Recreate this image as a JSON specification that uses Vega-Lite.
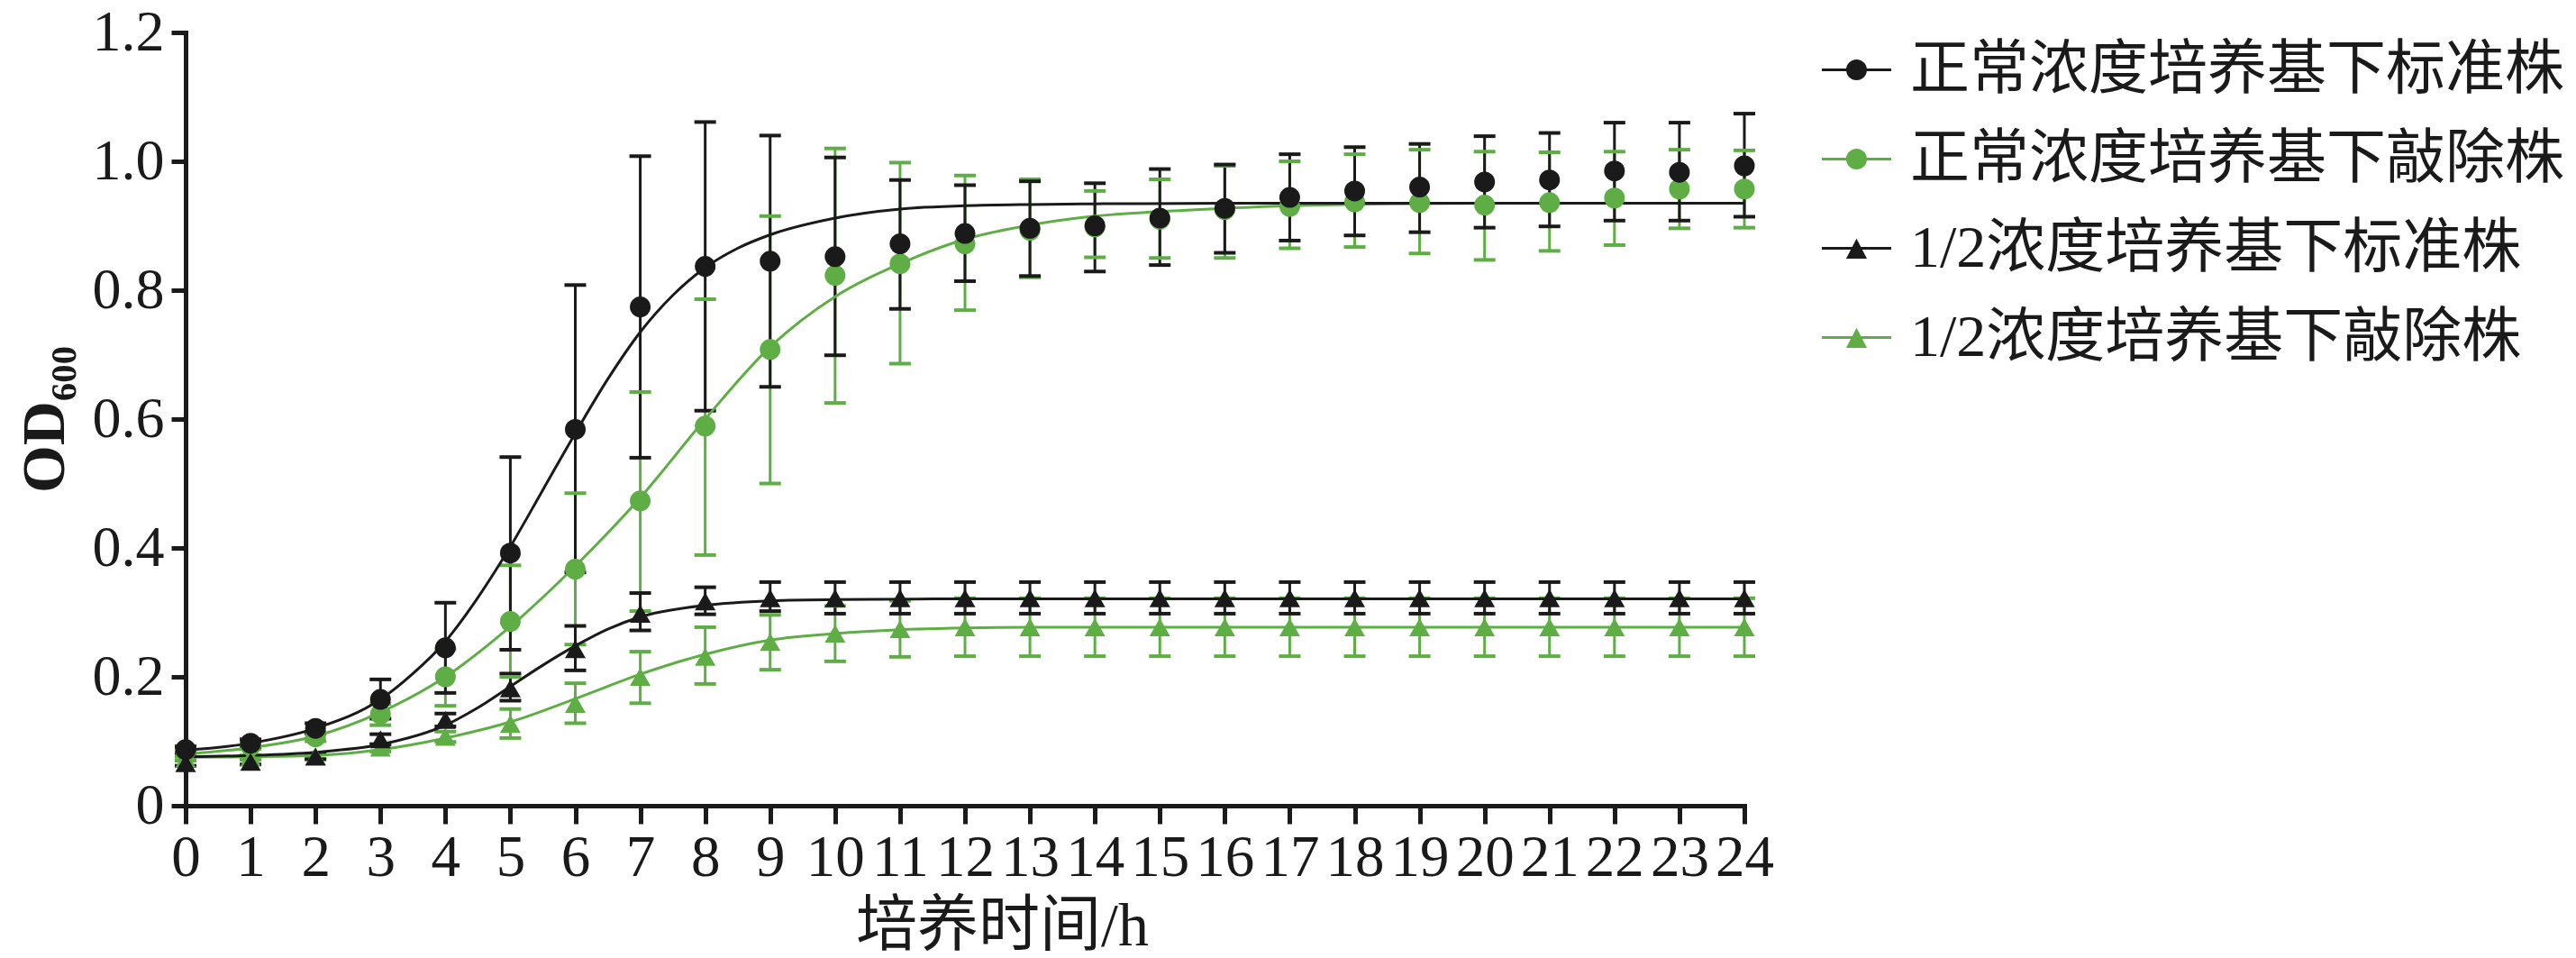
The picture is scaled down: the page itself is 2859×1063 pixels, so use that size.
{
  "$schema": "https://vega.github.io/schema/vega-lite/v6.json",
  "width": 1730,
  "height": 858,
  "autosize": {"type": "none"},
  "padding": {"left": 206, "top": 36, "right": 923, "bottom": 169},
  "background": "white",
  "config": {"view": {"stroke": null}, "font": "Liberation Serif"},
  "datasets": {
    "pts": [
      {"s": "1/2浓度培养基下敲除株", "t": 0, "m": 0.073, "lo": 0.07, "hi": 0.076},
      {"s": "1/2浓度培养基下敲除株", "t": 1, "m": 0.075, "lo": 0.072, "hi": 0.078},
      {"s": "1/2浓度培养基下敲除株", "t": 2, "m": 0.077, "lo": 0.073, "hi": 0.081},
      {"s": "1/2浓度培养基下敲除株", "t": 3, "m": 0.09, "lo": 0.084, "hi": 0.096},
      {"s": "1/2浓度培养基下敲除株", "t": 4, "m": 0.107, "lo": 0.099, "hi": 0.115},
      {"s": "1/2浓度培养基下敲除株", "t": 5, "m": 0.127, "lo": 0.105, "hi": 0.15},
      {"s": "1/2浓度培养基下敲除株", "t": 6, "m": 0.158, "lo": 0.128, "hi": 0.19},
      {"s": "1/2浓度培养基下敲除株", "t": 7, "m": 0.2, "lo": 0.159, "hi": 0.239},
      {"s": "1/2浓度培养基下敲除株", "t": 8, "m": 0.231, "lo": 0.189, "hi": 0.277},
      {"s": "1/2浓度培养基下敲除株", "t": 9, "m": 0.254, "lo": 0.211, "hi": 0.296},
      {"s": "1/2浓度培养基下敲除株", "t": 10, "m": 0.267, "lo": 0.224, "hi": 0.31},
      {"s": "1/2浓度培养基下敲除株", "t": 11, "m": 0.274, "lo": 0.231, "hi": 0.318},
      {"s": "1/2浓度培养基下敲除株", "t": 12, "m": 0.277, "lo": 0.232, "hi": 0.322},
      {"s": "1/2浓度培养基下敲除株", "t": 13, "m": 0.277, "lo": 0.232, "hi": 0.322},
      {"s": "1/2浓度培养基下敲除株", "t": 14, "m": 0.277, "lo": 0.232, "hi": 0.322},
      {"s": "1/2浓度培养基下敲除株", "t": 15, "m": 0.277, "lo": 0.232, "hi": 0.322},
      {"s": "1/2浓度培养基下敲除株", "t": 16, "m": 0.277, "lo": 0.232, "hi": 0.322},
      {"s": "1/2浓度培养基下敲除株", "t": 17, "m": 0.277, "lo": 0.232, "hi": 0.322},
      {"s": "1/2浓度培养基下敲除株", "t": 18, "m": 0.277, "lo": 0.232, "hi": 0.322},
      {"s": "1/2浓度培养基下敲除株", "t": 19, "m": 0.277, "lo": 0.232, "hi": 0.322},
      {"s": "1/2浓度培养基下敲除株", "t": 20, "m": 0.277, "lo": 0.232, "hi": 0.322},
      {"s": "1/2浓度培养基下敲除株", "t": 21, "m": 0.277, "lo": 0.232, "hi": 0.322},
      {"s": "1/2浓度培养基下敲除株", "t": 22, "m": 0.277, "lo": 0.232, "hi": 0.322},
      {"s": "1/2浓度培养基下敲除株", "t": 23, "m": 0.277, "lo": 0.232, "hi": 0.322},
      {"s": "1/2浓度培养基下敲除株", "t": 24, "m": 0.277, "lo": 0.232, "hi": 0.322},

      {"s": "正常浓度培养基下敲除株", "t": 0, "m": 0.085, "lo": 0.08, "hi": 0.09},
      {"s": "正常浓度培养基下敲除株", "t": 1, "m": 0.093, "lo": 0.088, "hi": 0.098},
      {"s": "正常浓度培养基下敲除株", "t": 2, "m": 0.107, "lo": 0.1, "hi": 0.114},
      {"s": "正常浓度培养基下敲除株", "t": 3, "m": 0.142, "lo": 0.125, "hi": 0.158},
      {"s": "正常浓度培养基下敲除株", "t": 4, "m": 0.2, "lo": 0.155, "hi": 0.243},
      {"s": "正常浓度培养基下敲除株", "t": 5, "m": 0.286, "lo": 0.2, "hi": 0.373},
      {"s": "正常浓度培养基下敲除株", "t": 6, "m": 0.367, "lo": 0.25, "hi": 0.485},
      {"s": "正常浓度培养基下敲除株", "t": 7, "m": 0.473, "lo": 0.302, "hi": 0.642},
      {"s": "正常浓度培养基下敲除株", "t": 8, "m": 0.589, "lo": 0.389, "hi": 0.786},
      {"s": "正常浓度培养基下敲除株", "t": 9, "m": 0.708, "lo": 0.5, "hi": 0.915},
      {"s": "正常浓度培养基下敲除株", "t": 10, "m": 0.823, "lo": 0.625, "hi": 1.02},
      {"s": "正常浓度培养基下敲除株", "t": 11, "m": 0.841, "lo": 0.686, "hi": 0.998},
      {"s": "正常浓度培养基下敲除株", "t": 12, "m": 0.872, "lo": 0.769, "hi": 0.978},
      {"s": "正常浓度培养基下敲除株", "t": 13, "m": 0.893, "lo": 0.82, "hi": 0.972},
      {"s": "正常浓度培养基下敲除株", "t": 14, "m": 0.898, "lo": 0.851, "hi": 0.954},
      {"s": "正常浓度培养基下敲除株", "t": 15, "m": 0.91, "lo": 0.85, "hi": 0.972},
      {"s": "正常浓度培养基下敲除株", "t": 16, "m": 0.925, "lo": 0.85, "hi": 0.993},
      {"s": "正常浓度培养基下敲除株", "t": 17, "m": 0.93, "lo": 0.865, "hi": 1.0},
      {"s": "正常浓度培养基下敲除株", "t": 18, "m": 0.937, "lo": 0.867, "hi": 1.011},
      {"s": "正常浓度培养基下敲除株", "t": 19, "m": 0.936, "lo": 0.857, "hi": 1.018},
      {"s": "正常浓度培养基下敲除株", "t": 20, "m": 0.932, "lo": 0.847, "hi": 1.015},
      {"s": "正常浓度培养基下敲除株", "t": 21, "m": 0.936, "lo": 0.861, "hi": 1.014},
      {"s": "正常浓度培养基下敲除株", "t": 22, "m": 0.943, "lo": 0.87, "hi": 1.015},
      {"s": "正常浓度培养基下敲除株", "t": 23, "m": 0.957, "lo": 0.896, "hi": 1.018},
      {"s": "正常浓度培养基下敲除株", "t": 24, "m": 0.957, "lo": 0.897, "hi": 1.017},

      {"s": "1/2浓度培养基下标准株", "t": 0, "m": 0.066, "lo": 0.062, "hi": 0.07},
      {"s": "1/2浓度培养基下标准株", "t": 1, "m": 0.068, "lo": 0.064, "hi": 0.072},
      {"s": "1/2浓度培养基下标准株", "t": 2, "m": 0.076, "lo": 0.072, "hi": 0.08},
      {"s": "1/2浓度培养基下标准株", "t": 3, "m": 0.103, "lo": 0.095, "hi": 0.111},
      {"s": "1/2浓度培养基下标准株", "t": 4, "m": 0.133, "lo": 0.123, "hi": 0.143},
      {"s": "1/2浓度培养基下标准株", "t": 5, "m": 0.182, "lo": 0.163, "hi": 0.205},
      {"s": "1/2浓度培养基下标准株", "t": 6, "m": 0.243, "lo": 0.21, "hi": 0.279},
      {"s": "1/2浓度培养基下标准株", "t": 7, "m": 0.298, "lo": 0.272, "hi": 0.33},
      {"s": "1/2浓度培养基下标准株", "t": 8, "m": 0.317, "lo": 0.297, "hi": 0.339},
      {"s": "1/2浓度培养基下标准株", "t": 9, "m": 0.322, "lo": 0.302, "hi": 0.347},
      {"s": "1/2浓度培养基下标准株", "t": 10, "m": 0.322, "lo": 0.298, "hi": 0.347},
      {"s": "1/2浓度培养基下标准株", "t": 11, "m": 0.322, "lo": 0.298, "hi": 0.347},
      {"s": "1/2浓度培养基下标准株", "t": 12, "m": 0.322, "lo": 0.298, "hi": 0.347},
      {"s": "1/2浓度培养基下标准株", "t": 13, "m": 0.322, "lo": 0.298, "hi": 0.347},
      {"s": "1/2浓度培养基下标准株", "t": 14, "m": 0.322, "lo": 0.298, "hi": 0.347},
      {"s": "1/2浓度培养基下标准株", "t": 15, "m": 0.322, "lo": 0.298, "hi": 0.347},
      {"s": "1/2浓度培养基下标准株", "t": 16, "m": 0.322, "lo": 0.298, "hi": 0.347},
      {"s": "1/2浓度培养基下标准株", "t": 17, "m": 0.322, "lo": 0.298, "hi": 0.347},
      {"s": "1/2浓度培养基下标准株", "t": 18, "m": 0.322, "lo": 0.298, "hi": 0.347},
      {"s": "1/2浓度培养基下标准株", "t": 19, "m": 0.322, "lo": 0.298, "hi": 0.347},
      {"s": "1/2浓度培养基下标准株", "t": 20, "m": 0.322, "lo": 0.298, "hi": 0.347},
      {"s": "1/2浓度培养基下标准株", "t": 21, "m": 0.322, "lo": 0.298, "hi": 0.347},
      {"s": "1/2浓度培养基下标准株", "t": 22, "m": 0.322, "lo": 0.298, "hi": 0.347},
      {"s": "1/2浓度培养基下标准株", "t": 23, "m": 0.322, "lo": 0.298, "hi": 0.347},
      {"s": "1/2浓度培养基下标准株", "t": 24, "m": 0.322, "lo": 0.298, "hi": 0.347},

      {"s": "正常浓度培养基下标准株", "t": 0, "m": 0.087, "lo": 0.082, "hi": 0.092},
      {"s": "正常浓度培养基下标准株", "t": 1, "m": 0.097, "lo": 0.091, "hi": 0.103},
      {"s": "正常浓度培养基下标准株", "t": 2, "m": 0.12, "lo": 0.112, "hi": 0.128},
      {"s": "正常浓度培养基下标准株", "t": 3, "m": 0.165, "lo": 0.135, "hi": 0.196},
      {"s": "正常浓度培养基下标准株", "t": 4, "m": 0.245, "lo": 0.175, "hi": 0.315},
      {"s": "正常浓度培养基下标准株", "t": 5, "m": 0.392, "lo": 0.242, "hi": 0.541},
      {"s": "正常浓度培养基下标准株", "t": 6, "m": 0.584, "lo": 0.362, "hi": 0.808},
      {"s": "正常浓度培养基下标准株", "t": 7, "m": 0.774, "lo": 0.54, "hi": 1.008},
      {"s": "正常浓度培养基下标准株", "t": 8, "m": 0.837, "lo": 0.613, "hi": 1.061},
      {"s": "正常浓度培养基下标准株", "t": 9, "m": 0.845, "lo": 0.65, "hi": 1.04},
      {"s": "正常浓度培养基下标准株", "t": 10, "m": 0.852, "lo": 0.699, "hi": 1.006},
      {"s": "正常浓度培养基下标准株", "t": 11, "m": 0.872, "lo": 0.771, "hi": 0.971},
      {"s": "正常浓度培养基下标准株", "t": 12, "m": 0.888, "lo": 0.814, "hi": 0.963},
      {"s": "正常浓度培养基下标准株", "t": 13, "m": 0.896, "lo": 0.822, "hi": 0.969},
      {"s": "正常浓度培养基下标准株", "t": 14, "m": 0.9, "lo": 0.829, "hi": 0.966},
      {"s": "正常浓度培养基下标准株", "t": 15, "m": 0.912, "lo": 0.839, "hi": 0.988},
      {"s": "正常浓度培养基下标准株", "t": 16, "m": 0.927, "lo": 0.858, "hi": 0.995},
      {"s": "正常浓度培养基下标准株", "t": 17, "m": 0.944, "lo": 0.877, "hi": 1.011},
      {"s": "正常浓度培养基下标准株", "t": 18, "m": 0.954, "lo": 0.885, "hi": 1.022},
      {"s": "正常浓度培养基下标准株", "t": 19, "m": 0.96, "lo": 0.89, "hi": 1.027},
      {"s": "正常浓度培养基下标准株", "t": 20, "m": 0.968, "lo": 0.897, "hi": 1.039},
      {"s": "正常浓度培养基下标准株", "t": 21, "m": 0.971, "lo": 0.899, "hi": 1.044},
      {"s": "正常浓度培养基下标准株", "t": 22, "m": 0.985, "lo": 0.908, "hi": 1.06},
      {"s": "正常浓度培养基下标准株", "t": 23, "m": 0.983, "lo": 0.908, "hi": 1.06},
      {"s": "正常浓度培养基下标准株", "t": 24, "m": 0.993, "lo": 0.914, "hi": 1.074}
    ],
    "fit": [
      {"s": "1/2浓度培养基下敲除株", "t": 0, "v": 0.075},
      {"s": "1/2浓度培养基下敲除株", "t": 1, "v": 0.076},
      {"s": "1/2浓度培养基下敲除株", "t": 2, "v": 0.078},
      {"s": "1/2浓度培养基下敲除株", "t": 3, "v": 0.087},
      {"s": "1/2浓度培养基下敲除株", "t": 4, "v": 0.105},
      {"s": "1/2浓度培养基下敲除株", "t": 5, "v": 0.13},
      {"s": "1/2浓度培养基下敲除株", "t": 6, "v": 0.166},
      {"s": "1/2浓度培养基下敲除株", "t": 7, "v": 0.204},
      {"s": "1/2浓度培养基下敲除株", "t": 8, "v": 0.235},
      {"s": "1/2浓度培养基下敲除株", "t": 9, "v": 0.257},
      {"s": "1/2浓度培养基下敲除株", "t": 10, "v": 0.267},
      {"s": "1/2浓度培养基下敲除株", "t": 11, "v": 0.273},
      {"s": "1/2浓度培养基下敲除株", "t": 12, "v": 0.276},
      {"s": "1/2浓度培养基下敲除株", "t": 13, "v": 0.277},
      {"s": "1/2浓度培养基下敲除株", "t": 24, "v": 0.277},

      {"s": "正常浓度培养基下敲除株", "t": 0, "v": 0.08},
      {"s": "正常浓度培养基下敲除株", "t": 1, "v": 0.09},
      {"s": "正常浓度培养基下敲除株", "t": 2, "v": 0.108},
      {"s": "正常浓度培养基下敲除株", "t": 3, "v": 0.145},
      {"s": "正常浓度培养基下敲除株", "t": 4, "v": 0.2},
      {"s": "正常浓度培养基下敲除株", "t": 5, "v": 0.278},
      {"s": "正常浓度培养基下敲除株", "t": 6, "v": 0.372},
      {"s": "正常浓度培养基下敲除株", "t": 7, "v": 0.478},
      {"s": "正常浓度培养基下敲除株", "t": 8, "v": 0.6},
      {"s": "正常浓度培养基下敲除株", "t": 9, "v": 0.712},
      {"s": "正常浓度培养基下敲除株", "t": 10, "v": 0.79},
      {"s": "正常浓度培养基下敲除株", "t": 11, "v": 0.841},
      {"s": "正常浓度培养基下敲除株", "t": 12, "v": 0.879},
      {"s": "正常浓度培养基下敲除株", "t": 13, "v": 0.901},
      {"s": "正常浓度培养基下敲除株", "t": 14, "v": 0.915},
      {"s": "正常浓度培养基下敲除株", "t": 15, "v": 0.922},
      {"s": "正常浓度培养基下敲除株", "t": 16, "v": 0.927},
      {"s": "正常浓度培养基下敲除株", "t": 17, "v": 0.931},
      {"s": "正常浓度培养基下敲除株", "t": 18, "v": 0.933},
      {"s": "正常浓度培养基下敲除株", "t": 20, "v": 0.935},
      {"s": "正常浓度培养基下敲除株", "t": 24, "v": 0.935},

      {"s": "1/2浓度培养基下标准株", "t": 0, "v": 0.076},
      {"s": "1/2浓度培养基下标准株", "t": 1, "v": 0.078},
      {"s": "1/2浓度培养基下标准株", "t": 2, "v": 0.083},
      {"s": "1/2浓度培养基下标准株", "t": 3, "v": 0.095},
      {"s": "1/2浓度培养基下标准株", "t": 4, "v": 0.125},
      {"s": "1/2浓度培养基下标准株", "t": 4.5, "v": 0.152},
      {"s": "1/2浓度培养基下标准株", "t": 5, "v": 0.185},
      {"s": "1/2浓度培养基下标准株", "t": 5.5, "v": 0.218},
      {"s": "1/2浓度培养基下标准株", "t": 6, "v": 0.248},
      {"s": "1/2浓度培养基下标准株", "t": 6.5, "v": 0.274},
      {"s": "1/2浓度培养基下标准株", "t": 7, "v": 0.293},
      {"s": "1/2浓度培养基下标准株", "t": 8, "v": 0.311},
      {"s": "1/2浓度培养基下标准株", "t": 9, "v": 0.318},
      {"s": "1/2浓度培养基下标准株", "t": 10, "v": 0.32},
      {"s": "1/2浓度培养基下标准株", "t": 12, "v": 0.321},
      {"s": "1/2浓度培养基下标准株", "t": 24, "v": 0.321},

      {"s": "正常浓度培养基下标准株", "t": 0, "v": 0.086},
      {"s": "正常浓度培养基下标准株", "t": 1, "v": 0.097},
      {"s": "正常浓度培养基下标准株", "t": 2, "v": 0.12},
      {"s": "正常浓度培养基下标准株", "t": 3, "v": 0.165},
      {"s": "正常浓度培养基下标准株", "t": 3.5, "v": 0.205},
      {"s": "正常浓度培养基下标准株", "t": 4, "v": 0.255},
      {"s": "正常浓度培养基下标准株", "t": 4.5, "v": 0.323},
      {"s": "正常浓度培养基下标准株", "t": 5, "v": 0.402},
      {"s": "正常浓度培养基下标准株", "t": 5.5, "v": 0.49},
      {"s": "正常浓度培养基下标准株", "t": 6, "v": 0.578},
      {"s": "正常浓度培养基下标准株", "t": 6.5, "v": 0.662},
      {"s": "正常浓度培养基下标准株", "t": 7, "v": 0.735},
      {"s": "正常浓度培养基下标准株", "t": 7.5, "v": 0.792},
      {"s": "正常浓度培养基下标准株", "t": 8, "v": 0.835},
      {"s": "正常浓度培养基下标准株", "t": 8.5, "v": 0.865},
      {"s": "正常浓度培养基下标准株", "t": 9, "v": 0.886},
      {"s": "正常浓度培养基下标准株", "t": 10, "v": 0.912},
      {"s": "正常浓度培养基下标准株", "t": 11, "v": 0.926},
      {"s": "正常浓度培养基下标准株", "t": 12, "v": 0.931},
      {"s": "正常浓度培养基下标准株", "t": 13, "v": 0.933},
      {"s": "正常浓度培养基下标准株", "t": 14, "v": 0.934},
      {"s": "正常浓度培养基下标准株", "t": 16, "v": 0.935},
      {"s": "正常浓度培养基下标准株", "t": 24, "v": 0.935}
    ]
  },
  "layer": [
    {
      "data": {"name": "pts"},
      "mark": {"type": "rule", "strokeWidth": 3},
      "encoding": {
        "x": {
          "field": "t", "type": "quantitative",
          "scale": {"domain": [0, 24], "nice": false, "zero": false},
          "axis": {
            "values": [0,1,2,3,4,5,6,7,8,9,10,11,12,13,14,15,16,17,18,19,20,21,22,23,24],
            "format": "d",
            "grid": false,
            "title": "培养时间/h",
            "domainColor": "#1a1a1a", "domainWidth": 5, "domainCap": "square",
            "tickColor": "#1a1a1a", "tickWidth": 5, "tickSize": 20,
            "labelFont": "Liberation Serif", "labelFontSize": 65, "labelColor": "#1a1a1a",
            "labelPadding": 6, "labelFlush": false, "labelOverlap": false,
            "titleFont": "Liberation Serif, Noto Sans CJK SC", "titleFontSize": 68,
            "titleFontWeight": "normal", "titleColor": "#1a1a1a", "titlePadding": 10,
            "titleX": 906
          }
        },
        "y": {
          "field": "lo", "type": "quantitative",
          "scale": {"domain": [0, 1.2], "nice": false},
          "axis": {
            "values": [0, 0.2, 0.4, 0.6, 0.8, 1.0, 1.2],
            "labelExpr": "datum.value == 0 ? '0' : format(datum.value, '.1f')",
            "grid": false,
            "title": "OD₆₀₀",
            "domainColor": "#1a1a1a", "domainWidth": 5, "domainCap": "square",
            "tickColor": "#1a1a1a", "tickWidth": 5, "tickSize": 16,
            "labelFont": "Liberation Serif", "labelFontSize": 64, "labelColor": "#1a1a1a",
            "labelPadding": 8, "labelFlush": false, "labelOverlap": false,
            "titleFont": "Liberation Serif", "titleFontSize": 68, "titleFontWeight": "bold",
            "titleColor": "#1a1a1a", "titlePadding": 18
          }
        },
        "y2": {"field": "hi"},
        "color": {
          "field": "s", "type": "nominal",
          "scale": {"domain": ["正常浓度培养基下标准株", "正常浓度培养基下敲除株", "1/2浓度培养基下标准株", "1/2浓度培养基下敲除株"], "range": ["#1a1a1a", "#5fae45", "#1a1a1a", "#5fae45"]},
          "legend": null
        }
      }
    },
    {
      "data": {"name": "pts"},
      "mark": {"type": "rule", "strokeWidth": 4, "xOffset": -12, "x2Offset": 12},
      "encoding": {
        "x": {"field": "t", "type": "quantitative"},
        "x2": {"field": "t"},
        "y": {"field": "hi", "type": "quantitative"},
        "color": {
          "field": "s", "type": "nominal",
          "scale": {"domain": ["正常浓度培养基下标准株", "正常浓度培养基下敲除株", "1/2浓度培养基下标准株", "1/2浓度培养基下敲除株"], "range": ["#1a1a1a", "#5fae45", "#1a1a1a", "#5fae45"]},
          "legend": null
        }
      }
    },
    {
      "data": {"name": "pts"},
      "mark": {"type": "rule", "strokeWidth": 4, "xOffset": -12, "x2Offset": 12},
      "encoding": {
        "x": {"field": "t", "type": "quantitative"},
        "x2": {"field": "t"},
        "y": {"field": "lo", "type": "quantitative"},
        "color": {
          "field": "s", "type": "nominal",
          "scale": {"domain": ["正常浓度培养基下标准株", "正常浓度培养基下敲除株", "1/2浓度培养基下标准株", "1/2浓度培养基下敲除株"], "range": ["#1a1a1a", "#5fae45", "#1a1a1a", "#5fae45"]},
          "legend": null
        }
      }
    },
    {
      "data": {"name": "fit"},
      "mark": {"type": "line", "strokeWidth": 3, "interpolate": "monotone"},
      "encoding": {
        "x": {"field": "t", "type": "quantitative"},
        "y": {"field": "v", "type": "quantitative"},
        "color": {
          "field": "s", "type": "nominal",
          "scale": {"domain": ["正常浓度培养基下标准株", "正常浓度培养基下敲除株", "1/2浓度培养基下标准株", "1/2浓度培养基下敲除株"], "range": ["#1a1a1a", "#5fae45", "#1a1a1a", "#5fae45"]},
          "legend": null
        }
      }
    },
    {
      "data": {"name": "pts"},
      "mark": {"type": "point", "filled": true, "opacity": 1, "size": 529},
      "encoding": {
        "x": {"field": "t", "type": "quantitative"},
        "y": {"field": "m", "type": "quantitative"},
        "color": {
          "field": "s", "type": "nominal",
          "scale": {"domain": ["正常浓度培养基下标准株", "正常浓度培养基下敲除株", "1/2浓度培养基下标准株", "1/2浓度培养基下敲除株"], "range": ["#1a1a1a", "#5fae45", "#1a1a1a", "#5fae45"]},
          "legend": null
        },
        "shape": {
          "field": "s", "type": "nominal",
          "scale": {"domain": ["正常浓度培养基下标准株", "正常浓度培养基下敲除株", "1/2浓度培养基下标准株", "1/2浓度培养基下敲除株"], "range": ["circle", "circle", "triangle-up", "triangle-up"]},
          "legend": null
        }
      }
    },
    {
      "data": {"name": "pts"},
      "mark": {"type": "point", "filled": true, "opacity": 0, "size": 1},
      "encoding": {
        "x": {"field": "t", "type": "quantitative"},
        "y": {"field": "m", "type": "quantitative"},
        "color": {
          "field": "s", "type": "nominal",
          "scale": {"domain": ["正常浓度培养基下标准株", "正常浓度培养基下敲除株", "1/2浓度培养基下标准株", "1/2浓度培养基下敲除株"], "range": ["#1a1a1a", "#5fae45", "#1a1a1a", "#5fae45"]},
          "legend": {
            "orient": "none", "legendX": 1816, "legendY": 3, "direction": "vertical",
            "title": null, "padding": 0, "rowPadding": 27,
            "symbolSize": 5929, "symbolStrokeWidth": 0, "symbolOpacity": 1,
            "labelFont": "Liberation Serif, Noto Sans CJK SC", "labelFontSize": 66,
            "labelColor": "#1a1a1a", "labelLimit": 0, "labelOffset": 21
          }
        },
        "shape": {
          "field": "s", "type": "nominal",
          "scale": {"domain": ["正常浓度培养基下标准株", "正常浓度培养基下敲除株", "1/2浓度培养基下标准株", "1/2浓度培养基下敲除株"], "range": [
            "M-1,-0.04L1,-0.04L1,0.04L-1,0.04Z M0.3,0A0.3,0.3,0,1,1,-0.3,0A0.3,0.3,0,1,1,0.3,0Z",
            "M-1,-0.04L1,-0.04L1,0.04L-1,0.04Z M0.3,0A0.3,0.3,0,1,1,-0.3,0A0.3,0.3,0,1,1,0.3,0Z",
            "M-1,-0.04L1,-0.04L1,0.04L-1,0.04Z M0,-0.28L0.3,0.3L-0.3,0.3Z",
            "M-1,-0.04L1,-0.04L1,0.04L-1,0.04Z M0,-0.28L0.3,0.3L-0.3,0.3Z"
          ]},
          "legend": {
            "orient": "none", "legendX": 1816, "legendY": 3, "direction": "vertical",
            "title": null, "padding": 0, "rowPadding": 27,
            "symbolSize": 5929, "symbolStrokeWidth": 0, "symbolOpacity": 1,
            "labelFont": "Liberation Serif, Noto Sans CJK SC", "labelFontSize": 66,
            "labelColor": "#1a1a1a", "labelLimit": 0, "labelOffset": 21
          }
        }
      }
    }
  ],
  "resolve": {"scale": {"color": "independent", "shape": "independent"}}
}
